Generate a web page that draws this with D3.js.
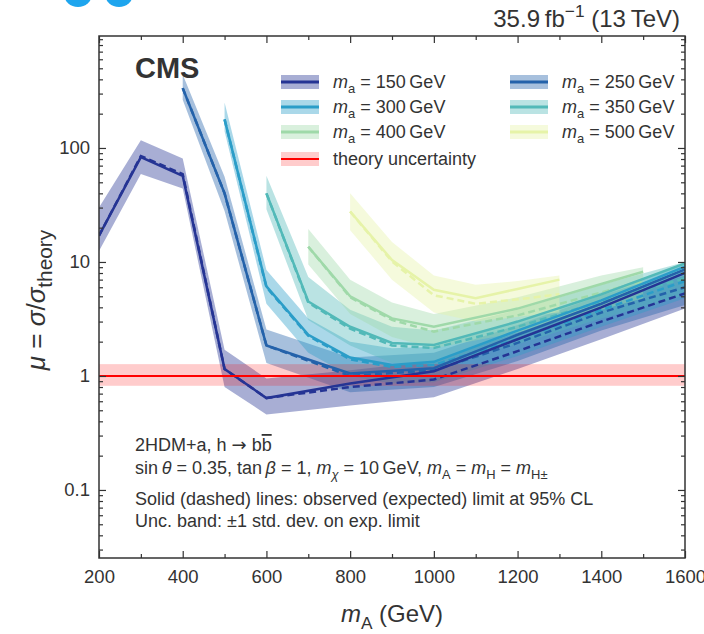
<!DOCTYPE html>
<html>
<head>
<meta charset="utf-8">
<script src="https://cdn.jsdelivr.net/npm/d3@7"></script>
<style>
body { margin: 0; background: #fff; }
text { font-family: "Liberation Sans", Arial, Helvetica, sans-serif; fill: #333; }
</style>
</head>
<body>
<div id="chart"></div>
<script>

// m_a = 150 GeV
var mass150 = [200, 300, 400, 500, 600, 800, 1000, 1200, 1400, 1600];
var obs150  = [17, 83, 57, 1.15, 0.64, 0.86, 1.1, 2.1, 4.0, 8.0];
var exp150  = [17, 85, 59, 1.15, 0.64, 0.80, 0.93, 1.65, 3.0, 5.3];
var lo150   = [12.5, 59, 44, 0.8, 0.46, 0.55, 0.65, 1.15, 2.1, 3.9];
var hi150   = [30, 117, 81, 1.7, 0.95, 1.12, 1.35, 2.4, 4.4, 7.6];

// m_a = 250 GeV
var mass250 = [400, 500, 600, 800, 1000, 1200, 1400, 1600];
var obs250  = [335, 40, 1.85, 1.05, 1.17, 2.3, 4.3, 8.6];
var exp250  = [335, 40, 1.85, 1.0, 1.12, 1.95, 3.6, 6.0];
var lo250   = [265, 28, 1.3, 0.72, 0.8, 1.35, 2.5, 4.2];
var hi250   = [440, 56, 2.55, 1.45, 1.6, 2.8, 5.1, 8.6];

// m_a = 300 GeV
var mass300 = [500, 600, 700, 800, 900, 1000, 1200, 1400, 1600];
var obs300  = [178, 6.1, 2.3, 1.45, 1.25, 1.33, 2.5, 4.6, 9.1];
var exp300  = [178, 6.0, 2.25, 1.4, 1.2, 1.25, 2.1, 3.8, 6.8];
var lo300   = [140, 4.3, 1.6, 1.0, 0.86, 0.88, 1.5, 2.7, 4.8];
var hi300   = [250, 8.5, 3.2, 2.0, 1.75, 1.8, 3.0, 5.4, 9.6];

// m_a = 350 GeV
var mass350 = [600, 700, 800, 900, 1000, 1200, 1400, 1600];
var obs350  = [40, 4.5, 2.7, 1.95, 1.87, 3.0, 5.2, 9.7];
var exp350  = [40, 4.4, 2.6, 1.85, 1.76, 2.7, 4.5, 7.2];
var lo350   = [29, 3.1, 1.85, 1.3, 1.25, 1.9, 3.2, 5.1];
var hi350   = [57, 7.4, 3.8, 2.7, 2.5, 3.8, 6.3, 10];

// m_a = 400 GeV
var mass400 = [700, 800, 900, 1000, 1200, 1400, 1500];
var obs400  = [13.6, 5.0, 3.2, 2.7, 3.9, 6.4, 8.2];
var exp400  = [13.6, 4.9, 3.1, 2.45, 3.4, 5.4, 6.8];
var lo400   = [9.5, 3.5, 2.2, 1.75, 2.4, 3.8, 4.8];
var hi400   = [19.5, 7.0, 4.4, 3.5, 4.9, 7.6, 9.0];

// m_a = 500 GeV
var mass500 = [800, 900, 1000, 1100, 1200, 1300];
var obs500  = [27.7, 10.4, 5.7, 4.8, 5.8, 7.0];
var exp500  = [27.7, 10.1, 5.1, 4.3, 4.7, 5.2];
var lo500   = [19, 7.0, 3.6, 3.0, 3.3, 3.6];
var hi500   = [40, 15, 7.6, 6.3, 6.8, 7.6];

var maLabels = ["150", "250", "300", "350", "400", "500"];
var maColors = ["#253494", "#2462aa", "#2b9dc8", "#52b9b8", "#9fd9a9", "#e6f3a8"];

var theoryLo = 0.82, theoryHi = 1.27;

var xTicks = [200, 400, 600, 800, 1000, 1200, 1400, 1600];
var xMinor = [300, 500, 700, 900, 1100, 1300, 1500];
var yTicks = [0.1, 1, 10, 100];
var yTickLabels = ["0.1", "1", "10", "100"];

var W = 704, H = 634;
var pLeft = 99, pRight = 685, pTop = 36, pBottom = 558;

var x = d3.scaleLinear().domain([200, 1600]).range([pLeft, pRight]);
var y = d3.scaleLog().domain([0.0253, 960]).range([pBottom, pTop]);

function makeSeries(mass, obs, exp, lo, hi) {
	return mass.map(function(m, i) {
		return {m: m, obs: obs[i], exp: exp[i], lo: lo[i], hi: hi[i]};
	});
}

var series = [
	makeSeries(mass150, obs150, exp150, lo150, hi150),
	makeSeries(mass250, obs250, exp250, lo250, hi250),
	makeSeries(mass300, obs300, exp300, lo300, hi300),
	makeSeries(mass350, obs350, exp350, lo350, hi350),
	makeSeries(mass400, obs400, exp400, lo400, hi400),
	makeSeries(mass500, obs500, exp500, lo500, hi500)
];

// text with italic / sub / sup pieces
function richText(sel, parts, size) {
	var shift = 0;
	parts.forEach(function(p) {
		var s = 0, fs = size;
		if (p.sub) { s = size * 0.28; fs = size * (p.scale || 0.72); }
		if (p.sup) { s = -size * 0.42; fs = size * 0.72; }
		var ts = sel.append("tspan").text(p.t)
			.attr("dy", s - shift)
			.style("font-size", fs + "px");
		if (p.it) ts.style("font-style", "italic");
		if (p.over) ts.style("text-decoration", "overline");
		if (p.sym) ts.style("font-family", "DejaVu Sans");
		shift = s;
	});
}

var svg = d3.select("#chart")
	.append("svg")
	.attr("width", W)
	.attr("height", H);

// bits of the logo cut off at the top
svg.append("ellipse").attr("cx", 78).attr("cy", -6).attr("rx", 14).attr("ry", 13).style("fill", "#1ea5ee");
svg.append("ellipse").attr("cx", 119).attr("cy", -6).attr("rx", 14).attr("ry", 13).style("fill", "#1ea5ee");

svg.append("clipPath").attr("id", "plotclip")
	.append("rect")
	.attr("x", pLeft).attr("y", pTop)
	.attr("width", pRight - pLeft).attr("height", pBottom - pTop);

var plot = svg.append("g").attr("clip-path", "url(#plotclip)");

var band = d3.area()
	.x(function(d) { return x(d.m); })
	.y0(function(d) { return y(d.lo); })
	.y1(function(d) { return y(d.hi); });

var obsLine = d3.line()
	.x(function(d) { return x(d.m); })
	.y(function(d) { return y(d.obs); });

var expLine = d3.line()
	.x(function(d) { return x(d.m); })
	.y(function(d) { return y(d.exp); });

plot.selectAll(".band")
	.data(series)
	.enter().append("path")
	.attr("class", "band")
	.attr("d", band)
	.style("fill", function(d, i) { return maColors[i]; })
	.style("fill-opacity", 0.4)
	.style("stroke", "none");

// theory band
plot.append("rect")
	.attr("x", pLeft)
	.attr("width", pRight - pLeft)
	.attr("y", y(theoryHi))
	.attr("height", y(theoryLo) - y(theoryHi))
	.style("fill", "#ff0000")
	.style("fill-opacity", 0.2);

plot.selectAll(".exp")
	.data(series)
	.enter().append("path")
	.attr("class", "exp")
	.attr("d", expLine)
	.style("fill", "none")
	.style("stroke", function(d, i) { return maColors[i]; })
	.style("stroke-width", 2.5)
	.style("stroke-dasharray", "7,4");

plot.selectAll(".obs")
	.data(series)
	.enter().append("path")
	.attr("class", "obs")
	.attr("d", obsLine)
	.style("fill", "none")
	.style("stroke", function(d, i) { return maColors[i]; })
	.style("stroke-width", 2.5);

plot.append("line")
	.attr("x1", pLeft).attr("x2", pRight)
	.attr("y1", y(1)).attr("y2", y(1))
	.style("stroke", "#ff0000")
	.style("stroke-width", 2);

// axes, ticks inside on all four sides
function styleAxis(g) {
	g.select(".domain").remove();
	g.selectAll("line").style("stroke", "#333").style("stroke-width", 1.2);
	g.selectAll("text").style("font-size", "18.5px").style("fill", "#333");
}

svg.append("g")
	.attr("transform", "translate(0," + pBottom + ")")
	.call(d3.axisBottom(x).tickValues(xTicks).tickSize(-7).tickPadding(12).tickFormat(d3.format("d")))
	.call(styleAxis);
svg.append("g")
	.attr("transform", "translate(0," + pBottom + ")")
	.call(d3.axisBottom(x).tickValues(xMinor).tickSize(-4).tickFormat(""))
	.call(styleAxis);
svg.append("g")
	.attr("transform", "translate(0," + pTop + ")")
	.call(d3.axisTop(x).tickValues(xTicks).tickSize(-7).tickFormat(""))
	.call(styleAxis);
svg.append("g")
	.attr("transform", "translate(0," + pTop + ")")
	.call(d3.axisTop(x).tickValues(xMinor).tickSize(-4).tickFormat(""))
	.call(styleAxis);

var yMinor = [];
[0.01, 0.1, 1, 10, 100].forEach(function(dec) {
	for (var k = 2; k <= 9; k++) {
		var v = dec * k;
		if (v > 0.0253 && v < 960) yMinor.push(v);
	}
});

svg.append("g")
	.attr("transform", "translate(" + pLeft + ",0)")
	.call(d3.axisLeft(y).tickValues(yTicks).tickSize(-7).tickPadding(9)
		.tickFormat(function(d, i) { return yTickLabels[i]; }))
	.call(styleAxis);
svg.append("g")
	.attr("transform", "translate(" + pLeft + ",0)")
	.call(d3.axisLeft(y).tickValues(yMinor).tickSize(-4).tickFormat(""))
	.call(styleAxis);
svg.append("g")
	.attr("transform", "translate(" + pRight + ",0)")
	.call(d3.axisRight(y).tickValues(yTicks).tickSize(-7).tickFormat(""))
	.call(styleAxis);
svg.append("g")
	.attr("transform", "translate(" + pRight + ",0)")
	.call(d3.axisRight(y).tickValues(yMinor).tickSize(-4).tickFormat(""))
	.call(styleAxis);

svg.append("rect")
	.attr("x", pLeft).attr("y", pTop)
	.attr("width", pRight - pLeft).attr("height", pBottom - pTop)
	.style("fill", "none")
	.style("stroke", "#333")
	.style("stroke-width", 1.5);

// axis titles
var xt = svg.append("text")
	.attr("x", 392).attr("y", 622)
	.attr("text-anchor", "middle");
richText(xt, [{t: "m", it: true}, {t: "A", sub: true}, {t: " (GeV)"}], 24);

var yt = svg.append("text")
	.attr("transform", "translate(45,300) rotate(-90)")
	.attr("text-anchor", "middle");
richText(yt, [{t: "μ", it: true}, {t: " = "}, {t: "σ", it: true}, {t: "/"}, {t: "σ", it: true}, {t: "theory", sub: true, scale: 0.8}], 26);

// lumi label
var lumi = svg.append("text")
	.attr("x", 680).attr("y", 27)
	.attr("text-anchor", "end");
richText(lumi, [{t: "35.9\u2009fb"}, {t: "\u22121", sup: true}, {t: " (13\u2009TeV)"}], 24);

svg.append("text")
	.attr("x", 135).attr("y", 78)
	.style("font-size", "29px")
	.style("font-weight", "bold")
	.text("CMS");

// legend
var legRows = [
	{i: 0, col: 0, row: 0}, {i: 1, col: 1, row: 0},
	{i: 2, col: 0, row: 1}, {i: 3, col: 1, row: 1},
	{i: 4, col: 0, row: 2}, {i: 5, col: 1, row: 2}
];
var legX = [281, 510], legTextX = [333, 562], legY = [82, 107, 132, 159];

var leg = svg.append("g");
legRows.forEach(function(r) {
	var cy = legY[r.row];
	leg.append("rect")
		.attr("x", legX[r.col]).attr("y", cy - 7)
		.attr("width", 38).attr("height", 14)
		.style("fill", maColors[r.i]).style("fill-opacity", 0.4);
	leg.append("line")
		.attr("x1", legX[r.col]).attr("x2", legX[r.col] + 38)
		.attr("y1", cy).attr("y2", cy)
		.style("stroke", maColors[r.i]).style("stroke-width", 3);
	var t = leg.append("text").attr("x", legTextX[r.col]).attr("y", cy + 6);
	richText(t, [{t: "m", it: true}, {t: "a", sub: true}, {t: " = " + maLabels[r.i] + "\u2009GeV"}], 18);
});
leg.append("rect")
	.attr("x", legX[0]).attr("y", legY[3] - 7)
	.attr("width", 38).attr("height", 14)
	.style("fill", "#ff0000").style("fill-opacity", 0.2);
leg.append("line")
	.attr("x1", legX[0]).attr("x2", legX[0] + 38)
	.attr("y1", legY[3]).attr("y2", legY[3])
	.style("stroke", "#ff0000").style("stroke-width", 2);
leg.append("text")
	.attr("x", legTextX[0]).attr("y", legY[3] + 6)
	.style("font-size", "18px")
	.text("theory uncertainty");

// description text
var t1 = svg.append("text").attr("x", 135).attr("y", 451);
richText(t1, [{t: "2HDM+a, h "}, {t: "\u2192", sym: true}, {t: " b"}, {t: "b", over: true}], 18);

var t2 = svg.append("text").attr("x", 135).attr("y", 474);
richText(t2, [
	{t: "sin\u2009"}, {t: "θ", it: true}, {t: " = 0.35, tan\u2009"}, {t: "β", it: true},
	{t: " = 1, "}, {t: "m", it: true}, {t: "χ", sub: true, it: true}, {t: " = 10\u2009GeV, "},
	{t: "m", it: true}, {t: "A", sub: true}, {t: " = "},
	{t: "m", it: true}, {t: "H", sub: true}, {t: " = "},
	{t: "m", it: true}, {t: "H±", sub: true}
], 18);

svg.append("text").attr("x", 135).attr("y", 505)
	.style("font-size", "18px")
	.text("Solid (dashed) lines: observed (expected) limit at 95% CL");

svg.append("text").attr("x", 135).attr("y", 527)
	.style("font-size", "18px")
	.text("Unc. band: \u00b11 std. dev. on exp. limit");

</script>
</body>
</html>
